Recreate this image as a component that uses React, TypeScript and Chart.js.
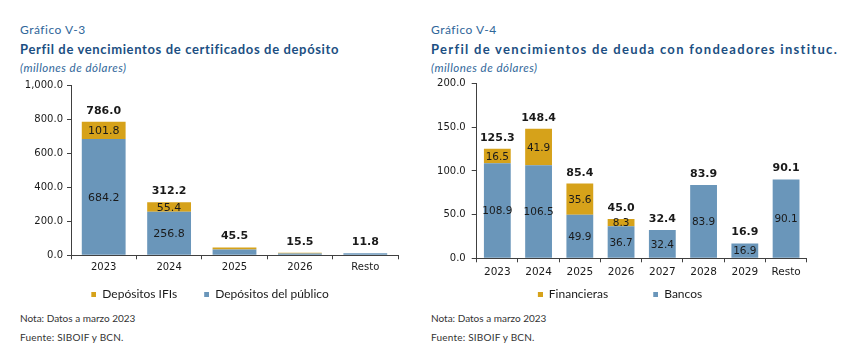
import React, { useEffect, useRef } from 'react';
import { Chart, registerables } from 'chart.js';
Chart.register(...registerables);

// ---------- Data: Gráfico V-3 ----------
const cats1 = ['2023', '2024', '2025', '2026', 'Resto'];
const publico1 = [684.2, 256.8, 33.5, 10.5, 11.8];
const ifis1 = [101.8, 55.4, 12.0, 5.0, 0];
const totals1 = [786.0, 312.2, 45.5, 15.5, 11.8];
const yMax1 = 1000;
const yStep1 = 200;

// ---------- Data: Gráfico V-4 ----------
const cats2 = ['2023', '2024', '2025', '2026', '2027', '2028', '2029', 'Resto'];
const bancos2 = [108.9, 106.5, 49.9, 36.7, 32.4, 83.9, 16.9, 90.1];
const financieras2 = [16.5, 41.9, 35.6, 8.3, 0, 0, 0, 0];
const totals2 = [125.3, 148.4, 85.4, 45.0, 32.4, 83.9, 16.9, 90.1];
const yMax2 = 200;
const yStep2 = 50;

const BLUE = '#6A96BA';
const GOLD = '#D6A21A';
const AXIS = '#404040';
const TXT = '#1a1a1a';
const TITLE = '#1C4F82';
const SUB = '#2F6699';

const fmt = (v: number) =>
  Number(v).toLocaleString('en-US', { minimumFractionDigits: 1, maximumFractionDigits: 1 });

function makeMarker(color: string, w: number) {
  const c = document.createElement('canvas');
  c.width = w;
  c.height = 5;
  const g = c.getContext('2d')!;
  g.fillStyle = color;
  g.fillRect(w - 5, 0, 5, 5);
  return c;
}

const barLabels = {
  id: 'barLabels',
  afterDatasetsDraw(chart: any, _args: any, opts: any) {
    const { ctx } = chart;
    ctx.save();
    ctx.textAlign = 'center';
    ctx.textBaseline = 'middle';
    ctx.fillStyle = TXT;
    ctx.font = `${opts.segSize}px "DejaVu Sans"`;
    chart.data.datasets.forEach((ds: any, di: number) => {
      const meta = chart.getDatasetMeta(di);
      meta.data.forEach((el: any, i: number) => {
        const v = ds.data[i];
        if (!v || v < opts.minSeg) return;
        const { x, y, base } = el.getProps(['x', 'y', 'base'], true);
        ctx.fillText(fmt(v), x, (y + base) / 2 + 1);
      });
    });
    ctx.font = `bold ${opts.totSize}px "DejaVu Sans"`;
    const meta0 = chart.getDatasetMeta(0);
    opts.totals.forEach((t: number, i: number) => {
      const x = meta0.data[i].x;
      const y = chart.scales.y.getPixelForValue(t);
      ctx.fillText(fmt(t), x, y - opts.totOffset);
    });
    ctx.restore();
  },
};

type PanelProps = {
  left: number;
  width: number;
  labels: string[];
  bottomData: number[];
  topData: number[];
  bottomName: string;
  topName: string;
  totals: number[];
  yMax: number;
  yStep: number;
  pad: { top: number; left: number; right: number; bottom: number };
  yWidth: number;
  xHeight: number;
  barPct: number;
  markerW: number;
  minSeg: number;
  xFont: number;
  xPad: number;
  yTick: number;
  yPad: number;
  segSize: number;
};

function Panel(p: PanelProps) {
  const ref = useRef<HTMLCanvasElement>(null);
  useEffect(() => {
    const colors = [BLUE, GOLD];
    const chart = new Chart(ref.current!, {
      type: 'bar',
      data: {
        labels: p.labels,
        datasets: [
          { label: p.bottomName, data: p.bottomData, backgroundColor: BLUE, barPercentage: p.barPct, categoryPercentage: 1 },
          { label: p.topName, data: p.topData, backgroundColor: GOLD, barPercentage: p.barPct, categoryPercentage: 1 },
        ],
      },
      plugins: [barLabels as any],
      options: {
        responsive: false,
        animation: false,
        devicePixelRatio: 1,
        layout: { padding: p.pad },
        scales: {
          x: {
            stacked: true,
            grid: { display: true, drawOnChartArea: false, color: AXIS, tickLength: 4, offset: true },
            border: { display: true, color: AXIS },
            ticks: { color: TXT, font: { family: 'DejaVu Sans', size: p.xFont }, padding: p.xPad, maxRotation: 0 },
            afterFit: (s: any) => { s.height = p.xHeight; },
          },
          y: {
            stacked: true,
            min: 0,
            max: p.yMax,
            grid: { display: true, drawOnChartArea: false, color: AXIS, tickLength: p.yTick },
            border: { display: true, color: AXIS },
            ticks: {
              stepSize: p.yStep,
              color: TXT,
              font: { family: 'DejaVu Sans', size: 10 },
              padding: p.yPad,
              callback: (v: any) => fmt(Number(v)),
            },
            afterFit: (s: any) => { s.width = p.yWidth; },
          },
        },
        plugins: {
          tooltip: { enabled: false },
          legend: {
            position: 'bottom',
            reverse: true,
            labels: {
              usePointStyle: true,
              pointStyleWidth: p.markerW,
              padding: 10,
              color: TXT,
              font: { family: 'Lato', size: 12 },
              generateLabels: (c: any) =>
                (Chart.defaults.plugins.legend.labels as any).generateLabels(c).map((it: any) => ({
                  ...it,
                  pointStyle: makeMarker(colors[it.datasetIndex], p.markerW),
                })),
            },
          },
          barLabels: { totals: p.totals, minSeg: p.minSeg, segSize: p.segSize, totSize: 11, totOffset: 11 },
        } as any,
      },
    });
    return () => chart.destroy();
  }, []);
  return (
    <canvas
      ref={ref}
      width={p.width}
      height={355}
      style={{ position: 'absolute', left: p.left, top: 0, width: p.width, height: 355 }}
    />
  );
}

const txt = (left: number, top: number, text: string, style: React.CSSProperties) => (
  <div style={{ position: 'absolute', left, top, lineHeight: '16px', whiteSpace: 'nowrap', fontFamily: 'Lato', ...style }}>
    {text}
  </div>
);

export default function App() {
  return (
    <div style={{ position: 'absolute', left: 0, top: 0, width: 854, height: 355, background: '#fff', overflow: 'hidden' }}>
      {txt(20, 22, 'Gráfico V-3', { fontSize: 12, color: SUB, letterSpacing: 0.5 })}
      {txt(20, 41, 'Perfil de vencimientos de certificados de depósito', { fontSize: 13, fontWeight: 700, color: TITLE, letterSpacing: 0.64 })}
      {txt(20, 60, '(millones de dólares)', { fontSize: 11.5, fontStyle: 'italic', color: SUB, letterSpacing: 0.5 })}
      {txt(20, 310, 'Nota: Datos a marzo 2023', { fontSize: 10, color: '#333' })}
      {txt(20, 329, 'Fuente: SIBOIF y BCN.', { fontSize: 10, color: '#333', letterSpacing: 0.2 })}

      {txt(431, 22, 'Gráfico V-4', { fontSize: 12, color: SUB, letterSpacing: 0.5 })}
      {txt(431, 41, 'Perfil de vencimientos de deuda con fondeadores instituc.', { fontSize: 13, fontWeight: 700, color: TITLE, letterSpacing: 1.3 })}
      {txt(431, 60, '(millones de dólares)', { fontSize: 11.5, fontStyle: 'italic', color: SUB, letterSpacing: 0.5 })}
      {txt(431, 310, 'Nota: Datos a marzo 2023', { fontSize: 10, color: '#333' })}
      {txt(431, 329, 'Fuente: SIBOIF y BCN.', { fontSize: 10, color: '#333', letterSpacing: 0.2 })}

      <Panel
        left={0}
        width={420}
        labels={cats1}
        bottomData={publico1}
        topData={ifis1}
        bottomName="Depósitos del público"
        topName="Depósitos IFIs"
        totals={totals1}
        yMax={yMax1}
        yStep={yStep1}
        pad={{ top: 85.3, left: 5, right: 22, bottom: 45 }}
        yWidth={66}
        xHeight={22.7}
        barPct={0.67}
        markerW={22}
        minSeg={50}
        xFont={10}
        xPad={2}
        yTick={4}
        yPad={4}
        segSize={11}
      />
      <Panel
        left={380}
        width={474}
        labels={cats2}
        bottomData={bancos2}
        topData={financieras2}
        bottomName="Bancos"
        topName="Financieras"
        totals={totals2}
        yMax={yMax2}
        yStep={yStep2}
        pad={{ top: 83.6, left: 18.3, right: 47.3, bottom: 45 }}
        yWidth={78.4}
        xHeight={19.7}
        barPct={0.65}
        markerW={40}
        minSeg={1}
        xFont={10.5}
        xPad={4}
        yTick={5}
        yPad={6}
        segSize={10.5}
      />
    </div>
  );
}
